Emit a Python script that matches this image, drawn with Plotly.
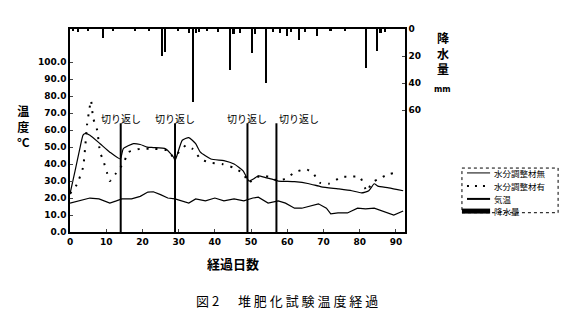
import plotly.graph_objects as go

# ---- data ----
days_without = [0, 1.4, 2.8, 3.6, 4.2, 5.5, 8.3, 11, 13.9, 14.7, 17.5, 19.4, 21.3, 23, 26.4, 28.6, 29,
                31, 32.8, 34.7, 36, 38.9, 42.5, 45.3, 47.8, 49.4, 50.5, 52, 54, 56, 57.5, 62, 66, 69.4,
                74, 77.8, 80.5, 82.5, 84, 85, 88, 92]
temp_without = [22.5, 36, 50, 57, 58, 57, 52, 47, 43, 49, 52, 51.5, 50, 49.7, 49, 44, 42,
                54, 55.6, 52, 47, 43, 42, 40, 36, 30, 31, 33, 32, 31, 30, 29.6, 28.4, 26.6,
                25.4, 24.3, 23, 24.3, 28.4, 27, 26, 24.3]

days_with = [0, 1.9, 3.6, 4.2, 4.7, 5.3, 5.8, 6.4, 7.5, 8.3, 9.2, 10.2, 11, 12.5, 13.9, 14.7, 16.1,
             17.5, 19.4, 23, 27, 28.6, 30.5, 32, 33.8, 34.7, 36, 38.3, 42, 45, 47.8, 49.4, 51, 53,
             55, 57.5, 60, 62, 65, 67, 69, 71.4, 73, 75, 77, 80, 82, 83.3, 85, 88, 91]
temp_with = [22.5, 28, 38, 50, 63, 71.6, 77.5, 67, 60, 47, 42, 35, 30, 34, 38, 40, 47,
             48, 49, 49, 48, 44, 48, 51, 49, 47, 43, 41, 40, 38, 34.5, 29, 32, 33,
             32.5, 30, 32, 35, 37, 35, 29, 28.4, 30, 32.5, 32.5, 32.5, 24, 29, 31, 34, 35.5]

days_air = [0, 2.8, 5.5, 8, 11, 12.8, 14.3, 17, 19.4, 21.5, 23, 25, 27, 29, 31, 32.8, 34.7, 37.4,
            40, 42.5, 45.3, 48, 50.5, 52, 54.7, 57.5, 59.5, 62, 64, 66.7, 68.6, 70.8, 72, 74,
            76.6, 79.4, 81.6, 84, 86, 89.4, 92]
temp_air = [17, 18.3, 20, 19.5, 17, 18.3, 19.5, 19.5, 21, 23.5, 23.7, 22, 20, 19.5, 18.3, 17, 19.5, 18.3,
            20, 18.3, 19.5, 18.3, 20, 20.5, 17, 18.3, 17, 14, 14, 15.4, 16.6, 14, 10.7, 11.2,
            11.2, 14, 13.6, 14, 12.4, 10, 12.4]

rain_days = [1, 2.2, 5, 9.1, 12, 18, 22, 25.4, 26.2, 30, 33, 34, 34.8, 35.6, 38, 41, 44.2, 45.2, 47,
             50.3, 51.2, 54.1, 56, 58, 59.9, 61, 63.3, 65, 68.2, 72, 76, 81.8, 84.8, 85.8, 87]
rain_mm = [1, 2, 1, 7, 1, 1, 1, 20, 17, 1, 3, 54, 3, 2, 1, 2, 30, 4, 3,
           18, 4, 40, 2, 3, 5, 2, 8, 2, 5, 1, 1, 29, 16, 3, 2]

turn_days = [14, 29, 49, 57]
turn_label = "切り返し"

x_ticks = [0, 10, 20, 30, 40, 50, 60, 70, 80, 90]
y_ticks = [0, 10, 20, 30, 40, 50, 60, 70, 80, 90, 100]
rain_ticks = [0, 20, 40, 60]

legend_names = ["水分調整材無", "水分調整材有", "気温", "降水量"]

JP = "Noto Sans CJK JP"
TF = dict(family="DejaVu Sans", size=9, color="black", weight="bold")

fig = go.Figure()
fig.add_trace(go.Bar(x=rain_days, y=rain_mm, yaxis="y2", name=legend_names[3],
                     marker=dict(color="black", line=dict(width=0)), width=0.45, showlegend=False))
fig.add_trace(go.Scatter(x=days_without, y=temp_without, mode="lines", name=legend_names[0],
                         line=dict(color="black", width=1.2, shape="spline", smoothing=0.5), showlegend=False))
fig.add_trace(go.Scatter(x=days_with, y=temp_with, mode="lines", name=legend_names[1],
                         line=dict(color="black", width=2, dash="2px,7px", shape="spline", smoothing=0.5),
                         showlegend=False))
fig.add_trace(go.Scatter(x=days_air, y=temp_air, mode="lines", name=legend_names[2],
                         line=dict(color="black", width=1.2), showlegend=False))

shapes = []
annotations = []
for i, d in enumerate(turn_days):
    shapes.append(dict(type="line", xref="x", yref="y", x0=d, x1=d, y0=0, y1=64,
                       line=dict(color="black", width=2)))
    last = i == len(turn_days) - 1
    annotations.append(dict(x=d, y=67, xref="x", yref="y", text=turn_label, showarrow=False,
                            xanchor="left" if last else "center", yanchor="middle",
                            xshift=1 if last else 0,
                            font=dict(family=JP, size=10, color="black")))


def note(x, y, text, font, xanchor="center"):
    return dict(x=x, y=y, xref="paper", yref="paper", text=text, showarrow=False,
                xanchor=xanchor, yanchor="middle", font=font)


annotations += [
    note(-0.14, 0.52, "温<br>度<br>°C", dict(family=JP, size=12, color="black", weight="bold")),
    note(1.113, 0.88, "降<br>水<br>量", dict(family=JP, size=12, color="black", weight="bold")),
    note(1.113, 0.70, "mm", dict(family="DejaVu Sans", size=8, color="black", weight="bold")),
    note(0.487, -0.153, "経過日数", dict(family=JP, size=13, color="black", weight="bold")),
    note(0.649, -0.335, "図 2　  堆 肥 化 試 験 温 度 経 過", dict(family=JP, size=13, color="black")),
]

# manual legend
shapes.append(dict(type="rect", xref="paper", yref="paper", x0=1.170, x1=1.457, y0=0.095, y1=0.315,
                   line=dict(color="black", width=1, dash="3px,3px")))
rows_y = [0.291, 0.227, 0.163, 0.103]
styles = [dict(width=1, dash="solid"), dict(width=2, dash="2px,6px"),
          dict(width=2, dash="solid"), dict(width=5, dash="solid")]
for i, (name, ry, st) in enumerate(zip(legend_names, rows_y, styles)):
    x0 = 1.170 if i == 3 else 1.185
    shapes.append(dict(type="line", xref="paper", yref="paper", x0=x0, x1=1.254, y0=ry, y1=ry,
                       line=dict(color="black", **st)))
    annotations.append(note(1.260, ry, name, dict(family=JP, size=8.5, color="black"), xanchor="left"))

fig.update_layout(
    width=575, height=309,
    margin=dict(l=70, r=170, t=29, b=77),
    paper_bgcolor="white", plot_bgcolor="white",
    bargap=0,
    xaxis=dict(range=[0, 92.5], tickvals=x_ticks, ticks="inside", ticklen=3, showline=True, mirror=True,
               linecolor="black", linewidth=1.5, showgrid=False, zeroline=False, tickfont=TF),
    yaxis=dict(range=[0, 119.5], tickvals=y_ticks, tickformat=".1f", ticks="inside", ticklen=3,
               showline=True, linecolor="black", linewidth=1.5, showgrid=False, zeroline=False,
               tickfont=TF),
    yaxis2=dict(overlaying="y", side="right", range=[150, 0], tickvals=rain_ticks, ticks="inside",
                ticklen=3, showline=True, linecolor="black", linewidth=1.5, showgrid=False,
                zeroline=False, tickfont=TF),
    shapes=shapes, annotations=annotations,
)

fig.write_html("out.html")
